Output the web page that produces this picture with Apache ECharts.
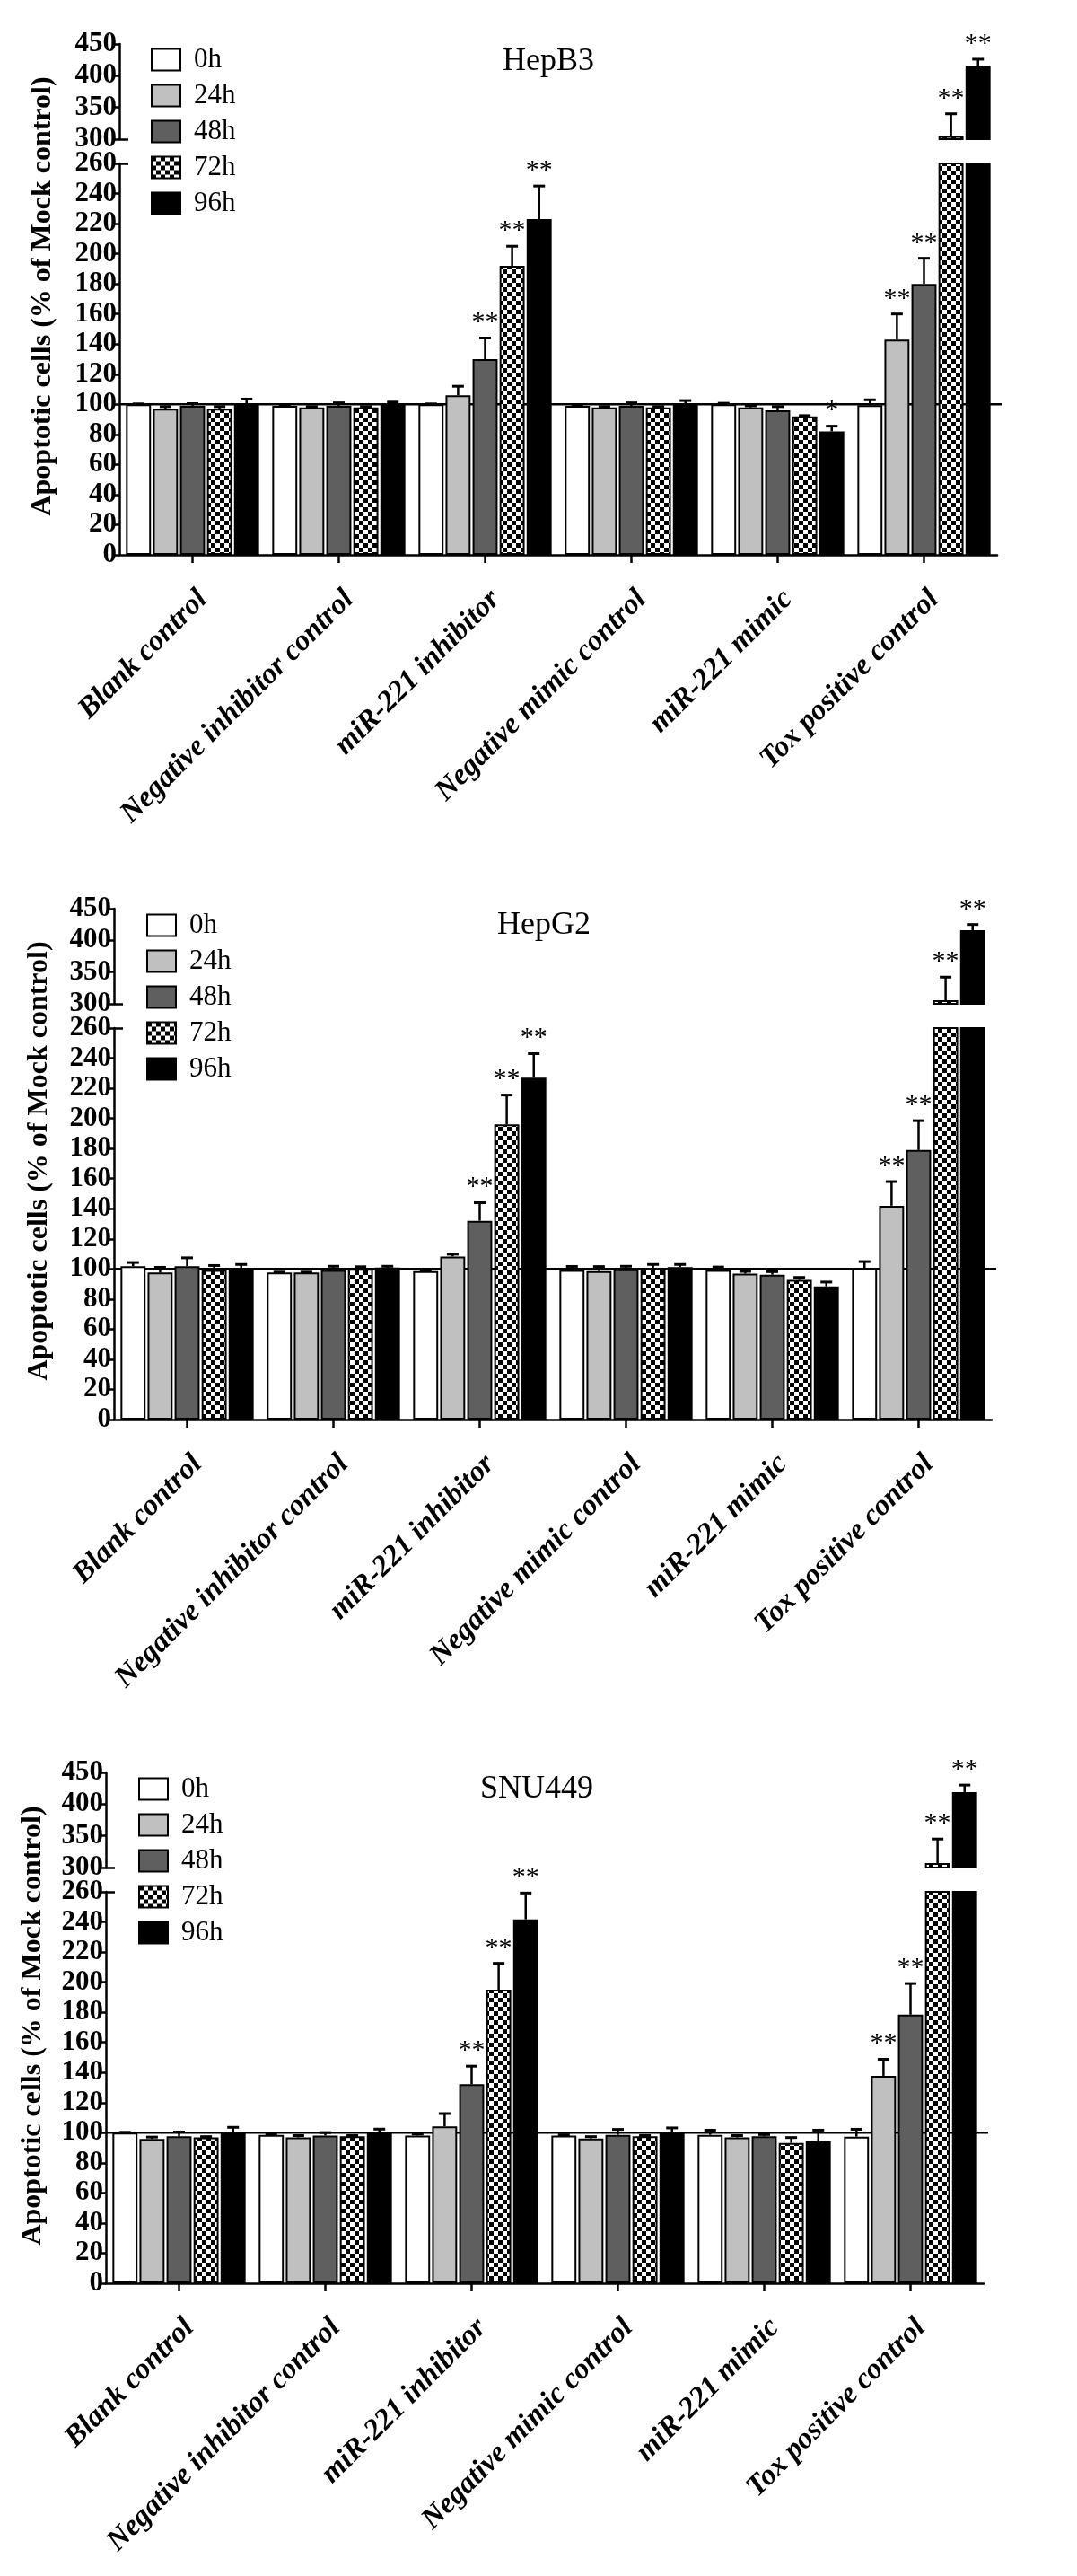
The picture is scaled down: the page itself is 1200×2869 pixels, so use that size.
<!DOCTYPE html>
<html><head><meta charset="utf-8">
<script src="https://cdn.jsdelivr.net/npm/echarts@6/dist/echarts.min.js"></script>
<style>html,body{margin:0;padding:0;background:#fff}#c{width:1200px;height:2869px}</style>
</head><body><div id="c"></div>
<script>
// ---------------- data ----------------
const categories = ['Blank control', 'Negative inhibitor control', 'miR-221 inhibitor',
  'Negative mimic control', 'miR-221 mimic', 'Tox positive control'];
const timePoints = ['0h', '24h', '48h', '72h', '96h'];
const panelTitles = ['HepB3', 'HepG2', 'SNU449'];
const yAxisName = 'Apoptotic cells (% of Mock control)';
const lowerAxis = { min: 0, max: 260, interval: 20 };
const upperAxis = { min: 300, max: 450, interval: 50 };
const referenceLevel = 100;

// rows: 0h, 24h, 48h, 72h, 96h ; columns follow categories
const hepB3Mean = [
  [100, 99, 100, 99, 100, 99.5],
  [97, 98, 106, 98, 98, 143],
  [99, 99, 130, 99, 96, 180],
  [97, 98, 192, 98, 92, 305],
  [100.5, 100, 223, 100, 82, 416]
];
const hepB3Err = [
  [0.3, 0.3, 0.3, 0.5, 0.7, 3.5],
  [1.5, 0.5, 6, 0.5, 1, 17],
  [1.5, 2, 14, 2, 2.5, 17],
  [1.5, 0.5, 13, 0.5, 0.5, 35],
  [3, 1.5, 22, 2.5, 3.5, 10]
];
const hepB3Sig = [
  ['', '', '', '', '', ''],
  ['', '', '', '', '', '**'],
  ['', '', '**', '', '', '**'],
  ['', '', '**', '', '', '**'],
  ['', '', '**', '', '*', '**']
];

const hepG2Mean = [
  [101.8, 97.6, 98.6, 99.3, 99.3, 100.5],
  [97.6, 97.6, 108.3, 98.6, 96.9, 142],
  [101.8, 99.3, 132, 99.8, 96.2, 179],
  [99.3, 100, 196, 100.5, 92.7, 305.6],
  [99.8, 101, 227, 101.3, 88.4, 416]
];
const hepG2Err = [
  [2.5, 0.3, 0.5, 2.4, 2, 4.4],
  [3.5, 0.3, 1.5, 3, 1.5, 16],
  [5.6, 2.5, 12, 2, 2, 19.5],
  [3, 1.5, 19.5, 2.5, 1.7, 36.5],
  [3.2, 0.8, 16, 1.7, 2.9, 9]
];
const hepG2Sig = [
  ['', '', '', '', '', ''],
  ['', '', '', '', '', '**'],
  ['', '', '**', '', '', '**'],
  ['', '', '**', '', '', '**'],
  ['', '', '**', '', '', '**']
];

const snu449Mean = [
  [100, 98.6, 98.1, 98.1, 98.6, 97.4],
  [95.9, 96.9, 104.2, 96.2, 96.9, 137.8],
  [97.6, 98.1, 132.2, 98.6, 97.6, 178.4],
  [96.9, 97.6, 195, 97.6, 93.2, 307],
  [100, 100, 241.7, 100, 94.4, 419]
];
const snu449Err = [
  [0.3, 0.3, 1, 0.5, 3.1, 4.9],
  [1.2, 1.2, 8.5, 1.2, 1.2, 11],
  [2.9, 2, 12, 3.6, 1.2, 20.7],
  [0.5, 0.5, 17.5, 0.5, 3.6, 38],
  [3.6, 2.4, 17.5, 3.2, 7.3, 11]
];
const snu449Sig = [
  ['', '', '', '', '', ''],
  ['', '', '', '', '', '**'],
  ['', '', '**', '', '', '**'],
  ['', '', '**', '', '', '**'],
  ['', '', '**', '', '', '**']
];

// ---------------- build ----------------
const panels = [
  { title: panelTitles[0], mean: hepB3Mean, err: hepB3Err, sig: hepB3Sig },
  { title: panelTitles[1], mean: hepG2Mean, err: hepG2Err, sig: hepG2Sig },
  { title: panelTitles[2], mean: snu449Mean, err: snu449Err, sig: snu449Sig }
];
const FONT = "'Liberation Serif','Times New Roman',serif";
const CAT_GAP = 0.09, BAR_GAP = 0.08;
const PW = 978, UPH = 106, LOWH = 436;
const layouts = [
  { left: 133, upTop: 49, lowTop: 182, legLeft: 168, legTop: 51, titleX: 611, titleY: 69, nameX: 48, nameY: 330 },
  { left: 127, upTop: 1012, lowTop: 1145, legLeft: 163, legTop: 1015, titleX: 606, titleY: 1031, nameX: 44, nameY: 1293 },
  { left: 118, upTop: 1974, lowTop: 2107, legLeft: 154, legTop: 1977, titleX: 598, titleY: 1993, nameX: 37, nameY: 2256 }
];

function checker() {
  const c = document.createElement('canvas');
  c.width = 10; c.height = 10;
  const g = c.getContext('2d');
  g.fillStyle = '#fff'; g.fillRect(0, 0, 10, 10);
  g.fillStyle = '#000'; g.fillRect(0, 0, 5, 5); g.fillRect(5, 5, 5, 5);
  return c;
}
const fills = ['#ffffff', '#c0c0c0', '#5f5f5f', { image: checker(), repeat: 'repeat' }, '#000000'];

const grid = [], xAxis = [], yAxis = [], extraY = [], series = [], legend = [], graphic = [];

function yAxisCfg(gi, rng) {
  return {
    gridIndex: gi, type: 'value', min: rng.min, max: rng.max, interval: rng.interval,
    axisLine: { show: true, lineStyle: { color: '#000', width: 2.5 } },
    axisTick: { show: true, length: 7, lineStyle: { color: '#000', width: 2.5 } },
    axisLabel: { color: '#000', fontFamily: FONT, fontWeight: 'bold', fontSize: 31, margin: 3 },
    splitLine: { show: false }
  };
}
// break marks: short inward ticks at the cut ends of each axis segment
function breakAxisCfg(gi, rng, v) {
  return {
    gridIndex: gi, type: 'value', min: rng.min, max: rng.max, interval: rng.interval, position: 'left',
    axisLine: { show: false }, axisLabel: { show: false }, splitLine: { show: false },
    axisTick: { show: true, inside: true, length: 10, customValues: [v], lineStyle: { color: '#000', width: 2.5 } }
  };
}

function errRenderer(t, sigRows) {
  return function (params, api) {
    const ci = api.value(0), v = api.value(1), e = api.value(2);
    const band = api.size([1, 0])[0];
    const w = band * (1 - CAT_GAP) / (5 + 4 * BAR_GAP);
    const total = 5 * w + 4 * w * BAR_GAP;
    const base = api.coord([ci, v]);
    const cx = base[0] - total / 2 + w / 2 + t * w * (1 + BAR_GAP);
    const yTop = base[1];
    const yCap = api.coord([ci, v + e])[1];
    const capW = 13;
    const children = [
      { type: 'line', shape: { x1: cx, y1: yTop, x2: cx, y2: yCap }, style: { stroke: '#000', lineWidth: 2.5 } },
      { type: 'line', shape: { x1: cx - capW / 2, y1: yCap, x2: cx + capW / 2, y2: yCap }, style: { stroke: '#000', lineWidth: 3 } }
    ];
    const s = sigRows[t][ci];
    if (s) {
      children.push({
        type: 'text', x: cx, y: yCap - 17,
        style: { text: s, textAlign: 'center', align: 'center', textVerticalAlign: 'middle', verticalAlign: 'middle',
          fontSize: 30, fontFamily: FONT, fill: '#000' }
      });
    }
    return { type: 'group', children };
  };
}

panels.forEach((p, pi) => {
  const L = layouts[pi];
  const gu = pi * 2, gl = pi * 2 + 1;
  grid.push({ left: L.left, top: L.upTop, width: PW, height: UPH, outerBoundsMode: 'none', containLabel: false });
  grid.push({ left: L.left, top: L.lowTop, width: PW, height: LOWH, outerBoundsMode: 'none', containLabel: false });
  xAxis.push({ gridIndex: gu, type: 'category', data: categories, show: false });
  xAxis.push({
    gridIndex: gl, type: 'category', data: categories,
    axisLine: { show: true, lineStyle: { color: '#000', width: 2.5 } },
    axisTick: { show: true, alignWithLabel: true, length: 9, lineStyle: { color: '#000', width: 2.5 } },
    axisLabel: { interval: 0, rotate: 45, color: '#000', fontFamily: FONT, fontWeight: 'bold',
      fontStyle: 'italic', fontSize: 33, margin: 33, verticalAlign: 'top' }
  });
  yAxis.push(yAxisCfg(gu, upperAxis));
  yAxis.push(yAxisCfg(gl, lowerAxis));
  extraY.push(breakAxisCfg(gu, upperAxis, upperAxis.min));
  extraY.push(breakAxisCfg(gl, lowerAxis, lowerAxis.max));

  // reference line at 100 (behind bars)
  series.push({
    type: 'custom', name: 'ref', xAxisIndex: gl, yAxisIndex: gl, z: 1, silent: true,
    data: [[0, referenceLevel]], encode: { x: 0, y: 1 },
    renderItem: function (params, api) {
      const cs = params.coordSys;
      const y = api.coord([0, api.value(1)])[1];
      return { type: 'line', shape: { x1: cs.x, y1: y, x2: cs.x + cs.width + 5, y2: y }, style: { stroke: '#000', lineWidth: 2.5 } };
    }
  });

  timePoints.forEach((tp, t) => {
    const common = {
      type: 'bar', name: tp, barCategoryGap: (CAT_GAP * 100) + '%', barGap: (BAR_GAP * 100) + '%',
      itemStyle: { color: fills[t], borderColor: '#000', borderWidth: 2 }, z: 2, clip: true, silent: true
    };
    series.push(Object.assign({}, common, { xAxisIndex: gl, yAxisIndex: gl, data: p.mean[t] }));
    series.push(Object.assign({}, common, {
      xAxisIndex: gu, yAxisIndex: gu,
      data: p.mean[t].map(v => (v > upperAxis.min ? v : '-'))
    }));
    const lowData = [], upData = [];
    p.mean[t].forEach((v, ci) => {
      if (v <= lowerAxis.max) lowData.push([ci, v, p.err[t][ci]]);
      else if (v > upperAxis.min) upData.push([ci, v, p.err[t][ci]]);
    });
    series.push({ type: 'custom', name: 'err', xAxisIndex: gl, yAxisIndex: gl, z: 3, silent: true,
      data: lowData, encode: { x: 0, y: 1 }, renderItem: errRenderer(t, p.sig) });
    series.push({ type: 'custom', name: 'err', xAxisIndex: gu, yAxisIndex: gu, z: 3, silent: true,
      data: upData, encode: { x: 0, y: 1 }, renderItem: errRenderer(t, p.sig) });
  });

  legend.push({
    left: L.legLeft, top: L.legTop, orient: 'vertical', data: timePoints, icon: 'rect',
    itemWidth: 32, itemHeight: 24, itemGap: 9, padding: 0, selectedMode: false,
    textStyle: { fontFamily: FONT, fontSize: 31, color: '#000', lineHeight: 24, padding: [0, 0, 0, 10] },
    itemStyle: { borderColor: '#000', borderWidth: 2 }
  });

  graphic.push({
    type: 'text', x: L.titleX, y: L.titleY, silent: true,
    style: { text: p.title, fontSize: 36, fontFamily: FONT, fill: '#000',
      textAlign: 'center', align: 'center', textVerticalAlign: 'middle', verticalAlign: 'middle' }
  });
  graphic.push({
    type: 'text', x: L.nameX, y: L.nameY, rotation: Math.PI / 2, silent: true,
    style: { text: yAxisName, fontSize: 32, fontWeight: 'bold', fontFamily: FONT, fill: '#000',
      textAlign: 'center', align: 'center', textVerticalAlign: 'middle', verticalAlign: 'middle' }
  });
});

const chart = echarts.init(document.getElementById('c'), null, { renderer: 'canvas', width: 1200, height: 2869 });
chart.setOption({
  animation: false,
  backgroundColor: '#ffffff',
  grid, xAxis, yAxis: yAxis.concat(extraY), series, legend, graphic
});
</script>
</body></html>
